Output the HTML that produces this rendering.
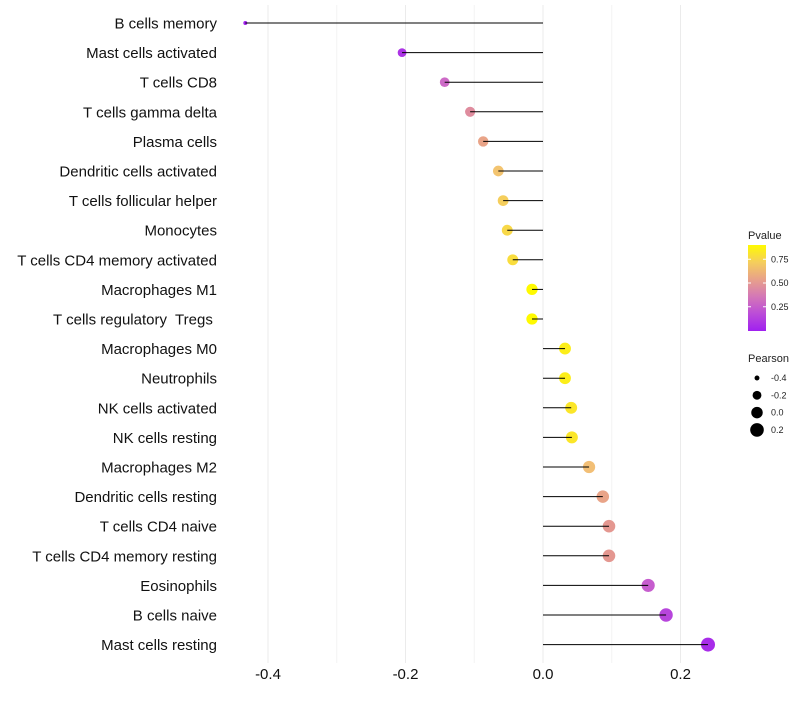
<!DOCTYPE html>
<html><head><meta charset="utf-8"><style>
body{margin:0;background:#fff;font-family:"Liberation Sans",sans-serif}
text{white-space:pre}
</style></head><body>
<svg id="chart" width="800" height="700" xmlns="http://www.w3.org/2000/svg" font-family="Liberation Sans, sans-serif"></svg>
<script>
const categories=["B cells memory","Mast cells activated","T cells CD8","T cells gamma delta","Plasma cells","Dendritic cells activated","T cells follicular helper","Monocytes","T cells CD4 memory activated","Macrophages M1","T cells regulatory  Tregs ","Macrophages M0","Neutrophils","NK cells activated","NK cells resting","Macrophages M2","Dendritic cells resting","T cells CD4 naive","T cells CD4 memory resting","Eosinophils","B cells naive","Mast cells resting"];
const pearson=[-0.433,-0.205,-0.143,-0.106,-0.087,-0.065,-0.058,-0.052,-0.044,-0.016,-0.016,0.032,0.032,0.041,0.042,0.067,0.087,0.096,0.096,0.153,0.179,0.240];
const pvalue=[0.01,0.08,0.3,0.45,0.55,0.68,0.72,0.76,0.78,0.9,0.9,0.85,0.85,0.82,0.82,0.66,0.55,0.5,0.5,0.25,0.15,0.05];
const xTicks=[-0.4,-0.2,0.0,0.2];
const xMinor=[-0.3,-0.1,0.1];
const pTicks=[0.25,0.5,0.75];
const sizeTicks=[-0.4,-0.2,0.0,0.2];

const svg=document.getElementById('chart');
const NS='http://www.w3.org/2000/svg';
function mk(t,a,p){const e=document.createElementNS(NS,t);for(const k in a)e.setAttribute(k,a[k]);(p||svg).appendChild(e);return e;}
const x=v=>543+v*687.5;
const y=i=>23+i*29.6;
const r=v=>Math.sqrt(Math.max(4,32.9+67.2*v));
const stops=[[0,[160,32,240]],[0.33,[205,105,200]],[0.55,[228,150,145]],[0.75,[243,195,115]],[1,[255,250,0]]];
function col(p){const t=Math.max(0,Math.min(1,p/0.9));
 for(let k=1;k<stops.length;k++){if(t<=stops[k][0]){const [t0,a]=stops[k-1],[t1,b]=stops[k];const s=(t-t0)/(t1-t0);
 return `rgb(${a.map((v,i)=>Math.round(v+(b[i]-v)*s)).join(',')})`;}}
 return 'rgb(255,250,0)';}

xMinor.forEach(v=>{const l=mk('line',{x1:x(v),x2:x(v),y1:5,y2:663,stroke:'#f3f3f3','stroke-width':1});
});
xTicks.forEach(v=>{const l=mk('line',{x1:x(v),x2:x(v),y1:5,y2:663,stroke:'#ebebeb','stroke-width':1});

const t=mk('text',{x:x(v),y:679,'text-anchor':'middle','font-size':15,fill:'#111'});t.textContent=v.toFixed(1);
});

categories.forEach((c,i)=>{
 const t=mk('text',{x:217,y:y(i)+5.5,'text-anchor':'end','font-size':15,fill:'#111'});t.textContent=c;
 
 const d=mk('circle',{cx:x(pearson[i]),cy:y(i),r:r(pearson[i]),fill:col(pvalue[i])});
 
 const l=mk('line',{x1:x(0),x2:x(pearson[i]),y1:y(i),y2:y(i),stroke:'#000','stroke-width':1});
 
});

const lt=mk('text',{x:748,y:239,'font-size':11,fill:'#222'});lt.textContent='Pvalue';

const defs=mk('defs',{});const g=mk('linearGradient',{id:'pg',x1:0,y1:1,x2:0,y2:0},defs);
[0,0.2,0.4,0.6,0.8,1].forEach(s=>mk('stop',{offset:s,'stop-color':col(s*0.9)},g));
const cb=mk('rect',{x:748,y:245,width:18,height:86,fill:'url(#pg)'});

const py=p=>330.5-p*95;
pTicks.forEach(p=>{mk('line',{x1:748,x2:751,y1:py(p),y2:py(p),stroke:'#fff'});mk('line',{x1:763,x2:766,y1:py(p),y2:py(p),stroke:'#fff'});
const t=mk('text',{x:771,y:py(p)+3,'font-size':9,fill:'#222'});t.textContent=p.toFixed(2);
});
const st=mk('text',{x:748,y:362,'font-size':11,fill:'#222'});st.textContent='Pearson';

sizeTicks.forEach((v,i)=>{const cy=378+i*17.3;
const c=mk('circle',{cx:757,cy:cy,r:r(v),fill:'#000'});
const t=mk('text',{x:771,y:cy+3,'font-size':9,fill:'#222'});t.textContent=v.toFixed(1);
});
</script>
</body></html>
